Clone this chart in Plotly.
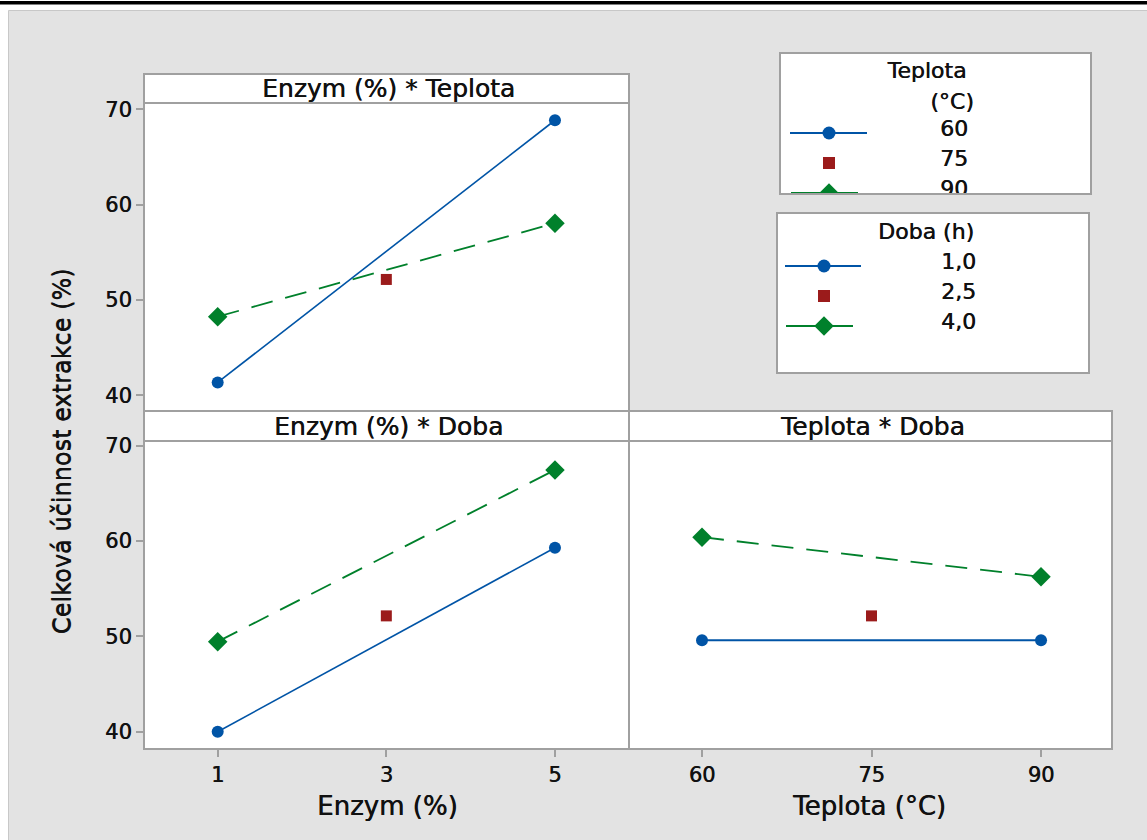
import plotly.graph_objects as go

W, H = 1147, 840

# ---------------- data ----------------
enzym_levels = [1, 3, 5]
teplota_levels = [60, 75, 90]
doba_levels = ["1,0", "2,5", "4,0"]
teplota_legend = ["60", "75", "90"]

center_value = 52.15  # centre point (Enzym 3 %, Teplota 75 °C, Doba 2,5 h)

# Enzym (%) * Teplota
et_enzym = [1, 5]
et_teplota60 = [41.35, 68.85]
et_teplota90 = [48.25, 58.05]

# Enzym (%) * Doba
ed_enzym = [1, 5]
ed_doba1 = [40.0, 59.3]
ed_doba4 = [49.45, 67.45]

# Teplota * Doba
td_teplota = [60, 90]
td_doba1 = [49.6, 49.6]
td_doba4 = [60.4, 56.25]

y_ticks = [40, 50, 60, 70]

# ---------------- styles ----------------
FONT = "DejaVu Sans"
BLUE = "#0054A6"
RED = "#9B1B1B"
GREEN = "#00802B"
BORDER = "#a0a0a0"
TXT = "#111111"
SHADOW = "0.5px 0px 0px #111111"
DASH = "22px,13px"


def fnt(size):
    return dict(family=FONT, size=size, color=TXT, shadow=SHADOW)


def px(x):
    return x / W


def py(y):
    return 1 - y / H


# panel geometry (pixels)
XL0, XM, XR1 = 144, 629, 1112
Y_STRIP_T, Y_TL_T, Y_MID, Y_STRIP_B, Y_BOT = 74, 103, 411, 441, 749

fig = go.Figure()


def add_panel(xs, blue_y, green_y, center_x, xa, ya, blue_w):
    fig.add_trace(go.Scatter(x=xs, y=blue_y, mode="lines+markers",
                             line=dict(color=BLUE, width=blue_w),
                             marker=dict(symbol="circle", size=12, color=BLUE),
                             xaxis=xa, yaxis=ya, showlegend=False))
    fig.add_trace(go.Scatter(x=xs, y=green_y, mode="lines+markers",
                             line=dict(color=GREEN, width=1.8, dash=DASH),
                             marker=dict(symbol="diamond", size=15, color=GREEN),
                             xaxis=xa, yaxis=ya, showlegend=False))
    fig.add_trace(go.Scatter(x=[center_x], y=[center_value], mode="markers",
                             marker=dict(symbol="square", size=11, color=RED),
                             xaxis=xa, yaxis=ya, showlegend=False))


# top-left: Enzym * Teplota ; bottom-left: Enzym * Doba ; bottom-right: Teplota * Doba
add_panel(et_enzym, et_teplota60, et_teplota90, enzym_levels[1], "x2", "y2", 1.6)
add_panel(ed_enzym, ed_doba1, ed_doba4, enzym_levels[1], "x", "y", 1.6)
add_panel(td_teplota, td_doba1, td_doba4, teplota_levels[1], "x3", "y3", 2.0)

# ---------------- legends drawn in their own small axes ----------------
L1 = (780, 53, 1091, 194)
L2 = (777, 213, 1089, 373)
ROW = 30.0  # pixel spacing of legend rows
LEG_SIZE = 22


def add_legend(box, xa, ya, title_lines, labels, first_row_px, line_x, sym_x, text_x):
    x0, y0, x1, y1 = box
    top = -(first_row_px - y0) / ROW
    bottom = top + (y1 - y0) / ROW
    rows = [0, 1, 2]
    colors = [BLUE, RED, GREEN]
    symbols = ["circle", "square", "diamond"]
    sizes = [13, 12, 15]
    for r, c, s, sz in zip(rows, colors, symbols, sizes):
        if line_x[r] is not None:
            fig.add_trace(go.Scatter(x=list(line_x[r]), y=[r, r], mode="lines",
                                     line=dict(color=c, width=1.8),
                                     xaxis=xa, yaxis=ya, showlegend=False,
                                     hoverinfo="skip", cliponaxis=True))
        fig.add_trace(go.Scatter(x=[sym_x], y=[r], mode="markers",
                                 marker=dict(symbol=s, size=sz, color=c),
                                 xaxis=xa, yaxis=ya, showlegend=False,
                                 hoverinfo="skip", cliponaxis=True))
    fig.add_trace(go.Scatter(x=[text_x] * 3, y=[r - 0.08 for r in rows], mode="text",
                             text=labels, textposition="middle right",
                             textfont=fnt(LEG_SIZE),
                             xaxis=xa, yaxis=ya, showlegend=False,
                             hoverinfo="skip", cliponaxis=True))
    fig.add_trace(go.Scatter(x=[t[0] for t in title_lines], y=[t[1] for t in title_lines],
                             mode="text", text=[t[2] for t in title_lines],
                             textposition="middle center",
                             textfont=fnt(LEG_SIZE),
                             xaxis=xa, yaxis=ya, showlegend=False,
                             hoverinfo="skip", cliponaxis=True))
    return dict(domain=[px(x0), px(x1)], range=[0, x1 - x0], visible=False, fixedrange=True,
                automargin=False), \
        dict(domain=[py(y1), py(y0)], range=[bottom, top], visible=False, fixedrange=True,
             automargin=False)


lx4, ly4 = add_legend(L1, "x4", "y4",
                      [(147, -2.03, "Teplota"), (172, -1.0, "(°C)")],
                      teplota_legend, 133,
                      line_x=[(10, 87), None, (11, 78)], sym_x=49, text_x=160)
lx5, ly5 = add_legend(L2, "x5", "y5",
                      [(149, -1.1, "Doba (h)")],
                      doba_levels, 266,
                      line_x=[(8, 84), None, (9, 76)], sym_x=47, text_x=164)

# ---------------- axes ----------------
axis_common = dict(showgrid=False, zeroline=False, showline=False, automargin=False,
                   ticks="outside", ticklen=7, tickwidth=2, tickcolor=BORDER,
                   tickfont=fnt(21), fixedrange=True)
axis_bare = dict(showgrid=False, zeroline=False, showline=False, automargin=False,
                 showticklabels=False, ticks="", fixedrange=True)

fig.update_layout(
    xaxis=dict(domain=[px(XL0), px(XM)], range=[0.126, 5.878], tickvals=enzym_levels,
               anchor="y", **axis_common),
    yaxis=dict(domain=[py(Y_BOT), py(Y_STRIP_B)], range=[38.19, 70.49], tickvals=y_ticks,
               anchor="x", **axis_common),
    xaxis2=dict(domain=[px(XL0), px(XM)], range=[0.126, 5.878], anchor="y2", **axis_bare),
    yaxis2=dict(domain=[py(Y_MID), py(Y_TL_T)], range=[38.35, 70.66], tickvals=y_ticks,
                anchor="x2", **axis_common),
    xaxis3=dict(domain=[px(XM), px(XR1)], range=[53.54, 96.28], tickvals=teplota_levels,
                anchor="y3", **axis_common),
    yaxis3=dict(domain=[py(Y_BOT), py(Y_STRIP_B)], range=[38.19, 70.49], anchor="x3",
                **axis_bare),
    xaxis4=dict(anchor="y4", **lx4),
    yaxis4=dict(anchor="x4", **ly4),
    xaxis5=dict(anchor="y5", **lx5),
    yaxis5=dict(anchor="x5", **ly5),
)

# ---------------- shapes ----------------
shapes = []


def rect(a, b, c, d, fill, line_color=None, lw=0, layer="below"):
    return dict(type="rect", xref="paper", yref="paper", x0=px(a), x1=px(c),
                y0=py(d), y1=py(b), fillcolor=fill,
                line=dict(color=line_color or "rgba(0,0,0,0)", width=lw), layer=layer)


# top black rule
shapes.append(rect(0, 1, W, 4.5, "black"))
# gray panel
shapes.append(rect(8.5, 10.5, W + 3, H + 3, "#e3e3e3", "#c8c8c8", 1))
# white areas: panels (strip + plot) and legend boxes
for (a, b, c, d) in [(XL0, Y_STRIP_T, XM, Y_MID), (XL0, Y_MID, XM, Y_BOT),
                     (XM, Y_MID, XR1, Y_BOT), L1, L2]:
    shapes.append(rect(a, b, c, d, "white"))
# borders
for (a, b, c, d) in [(XL0, Y_STRIP_T, XM, Y_MID), (XL0, Y_MID, XM, Y_BOT),
                     (XM, Y_MID, XR1, Y_BOT), L1, L2]:
    shapes.append(rect(a, b, c, d, "rgba(0,0,0,0)", BORDER, 2, layer="above"))
# strip separators
for (a, c, y) in [(XL0, XM, Y_TL_T), (XL0, XM, Y_STRIP_B), (XM, XR1, Y_STRIP_B)]:
    shapes.append(dict(type="line", xref="paper", yref="paper", x0=px(a), x1=px(c),
                       y0=py(y), y1=py(y), line=dict(color=BORDER, width=2), layer="above"))

# ---------------- annotations ----------------
ann = []
for text, xc, yc in [("Enzym (%) * Teplota", (XL0 + XM) / 2, (Y_STRIP_T + Y_TL_T) / 2),
                     ("Enzym (%) * Doba", (XL0 + XM) / 2, (Y_MID + Y_STRIP_B) / 2),
                     ("Teplota * Doba", (XM + XR1) / 2, (Y_MID + Y_STRIP_B) / 2)]:
    ann.append(dict(text=text, x=px(xc + 2), y=py(yc + 0.5), xref="paper", yref="paper",
                    showarrow=False, xanchor="center", yanchor="middle", font=fnt(25)))
ann.append(dict(text="Enzym (%)", x=px(387), y=py(806), xref="paper", yref="paper",
                showarrow=False, xanchor="center", yanchor="middle", font=fnt(26)))
ann.append(dict(text="Teplota (°C)", x=px(869), y=py(806), xref="paper", yref="paper",
                showarrow=False, xanchor="center", yanchor="middle", font=fnt(26)))
ann.append(dict(text="Celková účinnost extrakce (%)", x=px(62), y=py(451), xref="paper",
                yref="paper", showarrow=False, xanchor="center", yanchor="middle",
                textangle=-90, font=dict(family=FONT, size=24, color=TXT,
                                         shadow="0px 0.5px 0px #111111")))

fig.update_layout(
    template="none",
    width=W, height=H, margin=dict(l=0, r=0, t=0, b=0, pad=0, autoexpand=False),
    paper_bgcolor="white", plot_bgcolor="white",
    shapes=shapes, annotations=ann, showlegend=False,
    font=dict(family=FONT, color=TXT),
)

fig.write_html("out.html", config={"displayModeBar": False})
